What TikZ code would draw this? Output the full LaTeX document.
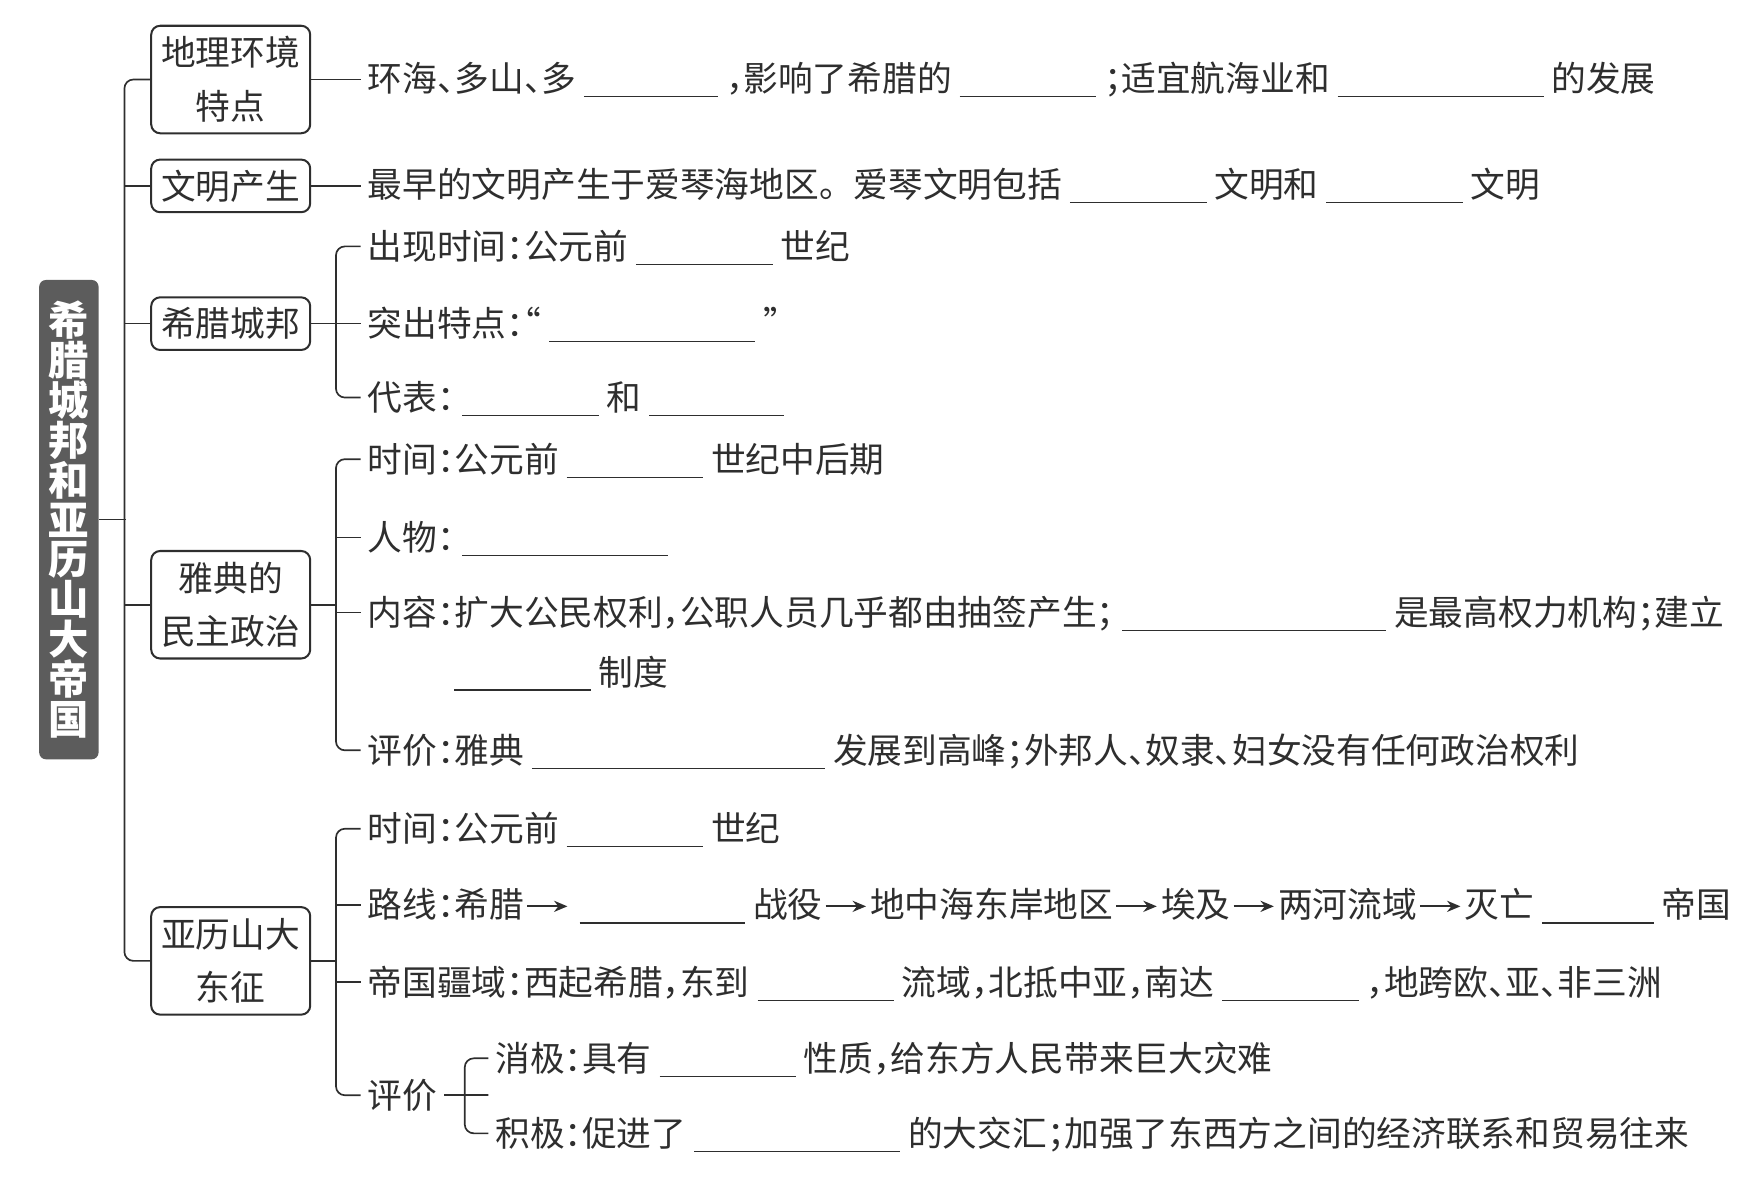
\documentclass[tikz,border=0pt]{standalone}
\usepackage{fontspec}
\setmainfont{Noto Sans CJK SC}[RawFeature=+halt]
\usepackage{tikz}
\usetikzlibrary{positioning,calc,arrows.meta}
\definecolor{Line}{HTML}{2E2E2E}
\definecolor{Slate}{HTML}{5C5C5C}
\newcommand{\blank}[1]{\hspace{3.5pt}\rule[-2.5pt]{#1pt}{0.6pt}\hspace{3.5pt}}
\newcommand{\lto}{\hspace{1pt}\tikz[baseline]\draw[line width=0.8pt,draw=Line,-{Stealth[length=6pt,width=5pt]}] (0pt,5.2pt) -- (18pt,5.2pt);\hspace{1.5pt}}
\tikzset{
 box/.style={draw=Line,line width=0.9pt,rounded corners=4pt,align=center,inner sep=0pt,
   minimum width=71pt,minimum height=23.5pt,font=\fontsize{15.5}{24}\selectfont,text=Line},
 tall/.style={box,minimum height=48pt},
 item/.style={anchor=west,inner xsep=3pt,inner ysep=0pt,text height=13.6pt,text depth=1.9pt,
   font=\fontsize{15.5}{18}\selectfont,text=Line},
 link/.style={draw=Line,line width=0.75pt},
 title/.style={fill=Slate,rounded corners=3pt,text=white,align=center,inner sep=0pt,
   minimum width=26.5pt,minimum height=214pt,font=\bfseries\fontsize{18}{17.8}\selectfont}
}
\begin{document}
\begin{tikzpicture}[x=0.5pt,y=-0.5pt]
\useasboundingbox (0,0) rectangle (1568,1059);
% title and trunk
\node[title] (title) at (61.5,464) {希\\腊\\城\\邦\\和\\亚\\历\\山\\大\\帝\\国};
\node[tall] (b1) at (206,71) {地理环境\\特点};
\node[box] (b2) at (206,166) {文明产生};
\node[box] (b3) at (206,289) {希腊城邦};
\node[tall] (b4) at (206,540) {雅典的\\民主政治};
\node[tall] (b5) at (206,858) {亚历山大\\东征};
\draw[link,rounded corners=4pt] (b1.west) -- ++(-23,0) |- (b5.west);
\foreach \b in {b2,b3,b4} \draw[link] (\b.west) -- ++(-23,0);
\draw[link] (title.east) -- ++(24,0);
% geography and origin
\node[item] (n1) at (322,70) {环海、多山、多\blank{60}，影响了希腊的\blank{61}；适宜航海业和\blank{92}的发展};
\node[item] (n2) at (322,165) {最早的文明产生于爱琴海地区。\hspace{0.5em}爱琴文明包括\blank{61}文明和\blank{61}文明};
\draw[link] (b1.east) -- (b1.east -| n1.west);
\draw[link] (b2.east) -- (b2.east -| n2.west);
% city-states
\node[item] (g3a) at (322,220) {出现时间：公元前\blank{61}世纪};
\node[item] (g3b) at (322,289) {突出特点：“\blank{92}”};
\node[item] (g3c) at (322,355) {代表：\blank{61}和\blank{60}};
\draw[link,rounded corners=4pt] (g3a.west) -- ++(-22,0) |- (g3c.west);
\draw[link] (b3.east) -- (b3.east -| g3b.west);
% Athens
\node[item] (g4a) at (322,410) {时间：公元前\blank{61}世纪中后期};
\node[item] (g4b) at (322,480) {人物：\blank{92}};
\node[item] (g4c) at (322,547) {内容：扩大公民权利，公职人员几乎都由抽签产生；\blank{118}是最高权力机构；建立};
\node[item] (g4x) at (392,600) {\blank{61}制度};
\node[item] (g4d) at (322,670) {评价：雅典\blank{131}发展到高峰；外邦人、奴隶、妇女没有任何政治权利};
\draw[link,rounded corners=4pt] (g4a.west) -- ++(-22,0) |- (g4d.west);
\draw[link] (g4b.west) -- ++(-22,0);
\draw[link] (g4c.west) -- ++(-22,0);
\draw[link] (b4.east) -- ++(23,0);
% Alexander
\node[item] (g5a) at (322,740) {时间：公元前\blank{61}世纪};
\node[item] (g5b) at (322,808) {路线：希腊\lto\blank{74}战役\lto 地中海东岸地区\lto 埃及\lto 两河流域\lto 灭亡\blank{50}帝国};
\node[item] (g5c) at (322,877) {帝国疆域：西起希腊，东到\blank{61}流域，北抵中亚，南达\blank{61}，地跨欧、亚、非三洲};
\node[item] (g5d) at (322,978) {评价};
\node[item] (g5e) at (436,945) {消极：具有\blank{61}性质，给东方人民带来巨大灾难};
\node[item] (g5f) at (436,1012) {积极：促进了\blank{92}的大交汇；加强了东西方之间的经济联系和贸易往来};
\draw[link,rounded corners=4pt] (g5a.west) -- ++(-22,0) |- (g5d.west);
\draw[link] (g5b.west) -- ++(-22,0);
\draw[link] (g5c.west) -- ++(-22,0);
\draw[link] (b5.east) -- ++(23,0);
\draw[link,rounded corners=4pt] (g5e.west) -- ++(-21,0) |- (g5f.west);
\draw[link] (g5d.east) -- (g5d.east -| g5e.west) -- ++(-21,0);
\end{tikzpicture}
\end{document}
